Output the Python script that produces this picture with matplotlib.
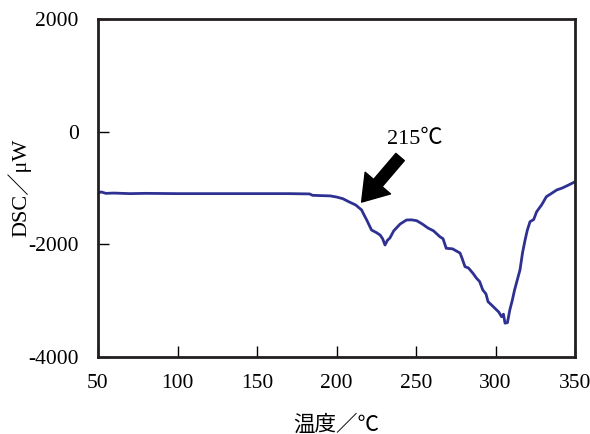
import matplotlib
matplotlib.use('Agg')
import matplotlib.pyplot as plt

# DSC curve
temperature = [50, 52, 55, 60, 70, 80, 100, 120, 150, 170, 183, 185, 190, 196, 200,
               204, 208, 212, 215.8, 217, 219, 222, 225, 227.4, 229, 230.5, 232,
               233.6, 236, 240, 244, 247, 250.4, 254, 257.5, 261, 265, 267, 269,
               273, 277.7, 279, 280.8, 283, 286, 288, 290, 292, 294, 295.3, 298,
               300.7, 302, 303.8, 305, 306, 307.5, 309, 310.5, 312, 314, 315.4,
               317, 318.6, 320, 321.7, 324, 325.9, 329, 332, 335, 338.5, 342, 345,
               348.9, 350]
dsc = [-1090, -1070, -1095, -1090, -1100, -1095, -1100, -1100, -1100, -1100, -1105,
       -1130, -1135, -1140, -1160, -1190, -1248, -1300, -1390, -1460, -1568, -1745,
       -1790, -1834, -1900, -2012, -1930, -1887, -1760, -1640, -1568, -1565, -1580,
       -1640, -1710, -1760, -1864, -1900, -2070, -2080, -2155, -2250, -2396, -2420,
       -2520, -2600, -2660, -2810, -2880, -3018, -3090, -3165, -3200, -3284, -3240,
       -3400, -3390, -3165, -3000, -2810, -2600, -2455, -2150, -1923, -1750, -1598,
       -1560, -1420, -1300, -1154, -1100, -1035, -1000, -960, -905, -890]

xticks = [50, 100, 150, 200, 250, 300, 350]
yticks = [-4000, -2000, 0, 2000]

plt.rcParams['font.family'] = ['Liberation Serif', 'Noto Sans CJK JP']
plt.rcParams['axes.unicode_minus'] = False

fig = plt.figure(figsize=(5.9, 4.34), dpi=100)
ax = fig.add_axes([98 / 590, 1 - 357 / 434, 477 / 590, 338 / 434])

ax.plot(temperature, dsc, color='#2e3192', linewidth=2)

ax.set_xlim(50, 350)
ax.set_ylim(-4000, 2000)
ax.set_xticks(xticks)
ax.set_yticks(yticks)
ax.tick_params(direction='in', length=8, width=1, labelsize=15.5)
ax.tick_params(axis='x', pad=12)
ax.tick_params(axis='y', pad=14)
for spine in ax.spines.values():
    spine.set_linewidth(2)
    spine.set_color('#231f20')

ax.set_xlabel('温度／℃', fontsize=15.5, labelpad=16)
ax.set_ylabel('DSC／μW', fontsize=16)
ax.yaxis.set_label_coords(-0.14, 0.5)

ax.annotate('', xy=(215.8, -1250), xytext=(240, -450),
            arrowprops=dict(facecolor='black', edgecolor='black',
                            width=8, headwidth=24, headlength=18))
ax.text(249, -140, '215℃', fontsize=16, ha='center', va='center')

fig.savefig('out.png', dpi=100)
